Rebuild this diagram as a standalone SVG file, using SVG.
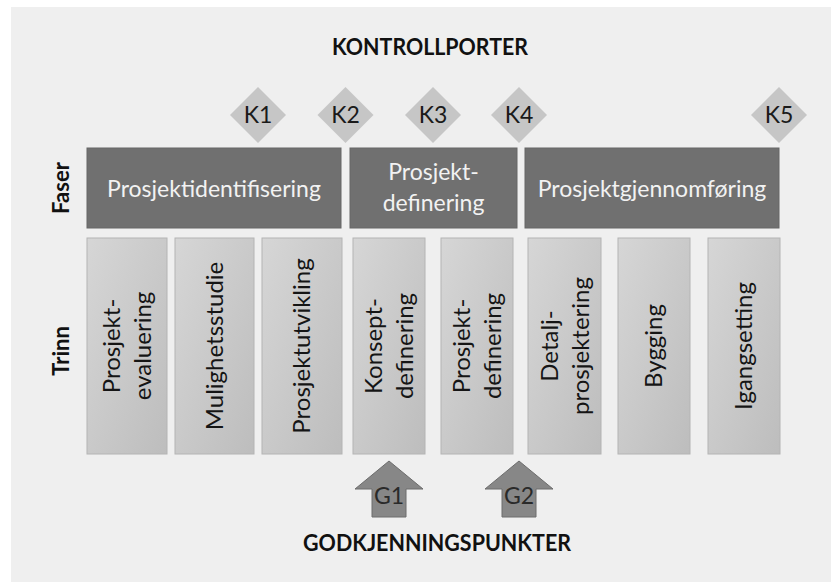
<svg xmlns="http://www.w3.org/2000/svg" width="831" height="582" viewBox="0 0 831 582">
  <defs>
    <linearGradient id="stepFill" x1="0" y1="0" x2="1" y2="1">
      <stop offset="0" stop-color="#d6d6d6"/>
      <stop offset="1" stop-color="#bdbdbd"/>
    </linearGradient>
  </defs>
  <style>
    .title { font-family: Lato, "Liberation Sans", sans-serif; font-weight: bold; font-size: 23px; fill: #111; text-anchor: middle; }
    .axis { font-family: Lato, "Liberation Sans", sans-serif; font-weight: bold; font-size: 22px; fill: #111; text-anchor: middle; }
    .phase { fill: #707070; stroke: #666; stroke-width: 1; }
    .phase-text { font-family: Lato, "Liberation Sans", sans-serif; font-size: 23px; fill: #f2f2f2; text-anchor: middle; }
    .step { fill: url(#stepFill); stroke: #b4b4b4; stroke-width: 1; }
    .step-text { font-family: Lato, "Liberation Sans", sans-serif; font-size: 24px; fill: #151515; text-anchor: middle; }
    .gate { fill: #c6c6c6; }
    .gate-text { font-family: Lato, "Liberation Sans", sans-serif; font-size: 23px; fill: #1a1a1a; text-anchor: middle; }
    .approval { fill: #878787; stroke: #6c6c6c; stroke-width: 1; }
    .approval-text { font-family: Lato, "Liberation Sans", sans-serif; font-size: 23px; fill: #2a2a2a; text-anchor: middle; }
  </style>

  <!-- page background -->
  <rect x="0" y="0" width="831" height="582" fill="#ffffff"/>
  <rect x="11" y="7" width="820" height="575" fill="#efefef"/>

  <!-- headings -->
  <text class="title" x="430" y="55" textLength="196" lengthAdjust="spacingAndGlyphs">KONTROLLPORTER</text>
  <text class="title" x="437" y="551" textLength="268" lengthAdjust="spacingAndGlyphs">GODKJENNINGSPUNKTER</text>
  <text class="axis" transform="translate(61,188) rotate(-90)" x="0" y="8">Faser</text>
  <text class="axis" transform="translate(61,351) rotate(-90)" x="0" y="8">Trinn</text>

  <!-- phases -->
  <g id="phase-identifisering">
    <rect class="phase" x="87" y="148" width="254" height="80"/>
    <text class="phase-text" x="214" y="197">Prosjektidentifisering</text>
  </g>
  <g id="phase-definering">
    <rect class="phase" x="350" y="148" width="167" height="80"/>
    <text class="phase-text" x="433.5" y="180">Prosjekt-</text>
    <text class="phase-text" x="433.5" y="211">definering</text>
  </g>
  <g id="phase-gjennomforing">
    <rect class="phase" x="525" y="148" width="254" height="80"/>
    <text class="phase-text" x="652" y="197">Prosjektgjennomføring</text>
  </g>

  <!-- steps -->
  <g id="step-evaluering">
    <rect class="step" x="87" y="238" width="80" height="216"/>
    <text class="step-text" transform="translate(127,346) rotate(-90)"><tspan x="0" y="-7">Prosjekt-</tspan><tspan x="0" y="24">evaluering</tspan></text>
  </g>
  <g id="step-mulighetsstudie">
    <rect class="step" x="175" y="238" width="79" height="216"/>
    <text class="step-text" transform="translate(214.5,346) rotate(-90)" x="0" y="8">Mulighetsstudie</text>
  </g>
  <g id="step-utvikling">
    <rect class="step" x="262" y="238" width="80" height="216"/>
    <text class="step-text" transform="translate(302,346) rotate(-90)" x="0" y="8">Prosjektutvikling</text>
  </g>
  <g id="step-konsept">
    <rect class="step" x="353" y="238" width="72" height="216"/>
    <text class="step-text" transform="translate(389,346) rotate(-90)"><tspan x="0" y="-7">Konsept-</tspan><tspan x="0" y="24">definering</tspan></text>
  </g>
  <g id="step-prosjektdefinering">
    <rect class="step" x="441" y="238" width="72" height="216"/>
    <text class="step-text" transform="translate(477,346) rotate(-90)"><tspan x="0" y="-7">Prosjekt-</tspan><tspan x="0" y="24">definering</tspan></text>
  </g>
  <g id="step-detalj">
    <rect class="step" x="528" y="238" width="73" height="216"/>
    <text class="step-text" transform="translate(564.5,346) rotate(-90)"><tspan x="0" y="-7">Detalj-</tspan><tspan x="0" y="24">prosjektering</tspan></text>
  </g>
  <g id="step-bygging">
    <rect class="step" x="618" y="238" width="72" height="216"/>
    <text class="step-text" transform="translate(654,346) rotate(-90)" x="0" y="8">Bygging</text>
  </g>
  <g id="step-igangsetting">
    <rect class="step" x="708" y="238" width="72" height="216"/>
    <text class="step-text" transform="translate(744,346) rotate(-90)" x="0" y="8">Igangsetting</text>
  </g>

  <!-- control gates -->
  <g id="gate-k1">
    <polygon class="gate" points="258,87 286,115 258,143 230,115"/>
    <text class="gate-text" x="258" y="123">K1</text>
  </g>
  <g id="gate-k2">
    <polygon class="gate" points="345.5,87 373.5,115 345.5,143 317.5,115"/>
    <text class="gate-text" x="345.5" y="123">K2</text>
  </g>
  <g id="gate-k3">
    <polygon class="gate" points="433,87 461,115 433,143 405,115"/>
    <text class="gate-text" x="433" y="123">K3</text>
  </g>
  <g id="gate-k4">
    <polygon class="gate" points="519,87 547,115 519,143 491,115"/>
    <text class="gate-text" x="519" y="123">K4</text>
  </g>
  <g id="gate-k5">
    <polygon class="gate" points="779,87 807,115 779,143 751,115"/>
    <text class="gate-text" x="779" y="123">K5</text>
  </g>

  <!-- approval points -->
  <g id="approval-g1">
    <polygon class="approval" points="389,461 423,489 406,489 406,517 372,517 372,489 355,489"/>
    <text class="approval-text" x="389" y="504">G1</text>
  </g>
  <g id="approval-g2">
    <polygon class="approval" points="519,461 553,489 536,489 536,517 502,517 502,489 485,489"/>
    <text class="approval-text" x="519" y="504">G2</text>
  </g>

  <g id="connectors"></g>
</svg>
